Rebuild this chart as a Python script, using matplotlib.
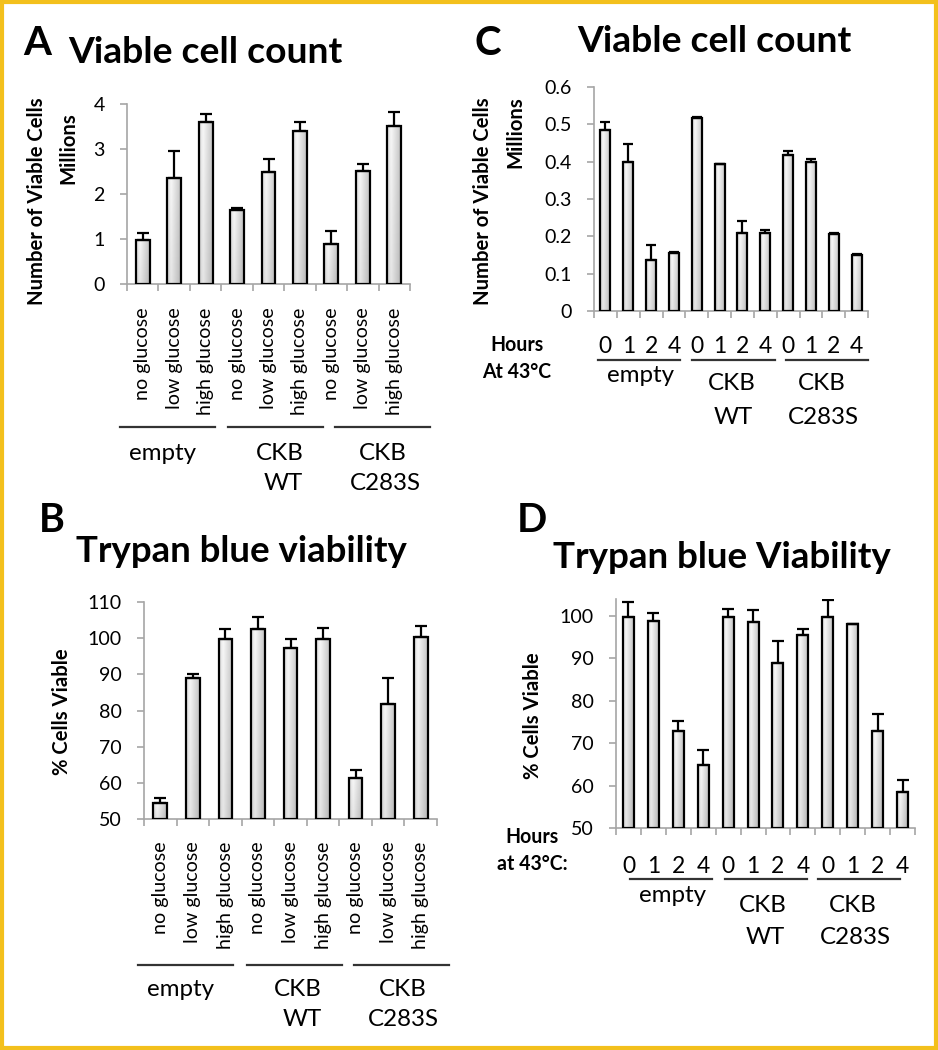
import matplotlib
matplotlib.use('Agg')
import matplotlib.pyplot as plt
import numpy as np
from matplotlib.patches import Rectangle
from matplotlib.lines import Line2D

plt.rcParams['font.family'] = ['Lato', 'DejaVu Sans']

# ---------------- data ----------------
glucose_labels = ['no glucose', 'low glucose', 'high glucose'] * 3
hour_labels = ['0', '1', '2', '4'] * 3
group_top = ['empty', 'CKB', 'CKB']
group_bottom = ['', 'WT', 'C283S']

# Panel A: viable cell count (millions), glucose conditions
a_vals = [0.98, 2.35, 3.59, 1.65, 2.48, 3.40, 0.90, 2.51, 3.51]
a_errs = [0.15, 0.61, 0.19, 0.03, 0.29, 0.19, 0.28, 0.15, 0.31]
a_yticks = [0, 1, 2, 3, 4]

# Panel B: trypan blue viability (%), glucose conditions
b_vals = [54.4, 89.1, 99.7, 102.6, 97.4, 99.7, 61.2, 81.7, 100.2]
b_errs = [1.4, 0.9, 2.9, 3.2, 2.3, 3.2, 2.4, 7.4, 3.1]
b_yticks = [50, 60, 70, 80, 90, 100, 110]

# Panel C: viable cell count (millions), hours at 43 C
c_vals = [0.484, 0.398, 0.136, 0.155, 0.517, 0.393, 0.208, 0.208, 0.417, 0.398, 0.206, 0.150]
c_errs = [0.022, 0.049, 0.041, 0.002, 0.003, 0.001, 0.032, 0.009, 0.012, 0.009, 0.002, 0.003]
c_yticks = [0, 0.1, 0.2, 0.3, 0.4, 0.5, 0.6]
c_ytick_labels = ['0', '0.1', '0.2', '0.3', '0.4', '0.5', '0.6']

# Panel D: trypan blue viability (%), hours at 43 C
d_vals = [99.7, 98.9, 72.8, 64.9, 99.7, 98.6, 89.0, 95.4, 99.7, 98.0, 72.8, 58.5]
d_errs = [3.7, 1.7, 2.4, 3.5, 2.0, 2.7, 5.0, 1.6, 4.1, 0.2, 4.0, 2.9]
d_yticks = [50, 60, 70, 80, 90, 100]

# ---------------- figure helpers ----------------
W, H = 938, 1050
fig = plt.figure(figsize=(W / 100, H / 100), dpi=100)
renderer = fig.canvas.get_renderer()


def axes_px(x0, ytop, x1, ybot):
    return fig.add_axes([x0 / W, 1 - ybot / H, (x1 - x0) / W, (ybot - ytop) / H])


def ftext(x, y, s, **kw):
    return fig.text(x / W, 1 - y / H, s, **kw)


def hline(x0, x1, y, **kw):
    fig.add_artist(Line2D([x0 / W, x1 / W], [1 - y / H, 1 - y / H],
                          transform=fig.transFigure, **kw))


def fit(t, target, vertical=False):
    bb = t.get_window_extent(renderer)
    cur = bb.height if vertical else bb.width
    t.set_fontsize(t.get_fontsize() * target / cur)
    return t.get_fontsize()


def fit_size(s, target, **kw):
    t = fig.text(0, 0, s, fontsize=12, **kw)
    sz = fit(t, target)
    t.remove()
    return sz


# bar gradient image
cols = np.linspace(0, 1, 64)
prof = np.interp(cols, [0, 0.3, 1], [0.86, 0.97, 0.77])
vert = np.linspace(1.0, 0.93, 32)[:, None]
g = prof[None, :] * vert
grad_img = np.dstack([g, g, g])

AX_GRAY = '#a6a6a6'
ytick_sz = fit_size('110', 34)
gluc_sz = fit_size('high glucose', 107)
grp_sz = fit_size(group_top[0], 67)
hour_sz = grp_sz * 0.95


def draw_panel(ax, vals, errs, ylim, yticks, ytick_labels, width, capsize):
    n = len(vals)
    x = np.arange(n)
    base = ylim[0]
    vals = np.array(vals)
    bars = ax.bar(x, vals - base, bottom=base, width=width, facecolor='none',
                  edgecolor='black', linewidth=1.6, zorder=3)
    for r in bars:
        ax.imshow(grad_img, extent=[r.get_x(), r.get_x() + r.get_width(),
                                    base, r.get_y() + r.get_height()],
                  aspect='auto', zorder=2, interpolation='bilinear')
    ax.errorbar(x, vals, yerr=[np.zeros(n), errs], fmt='none', ecolor='black',
                elinewidth=1.6, capsize=capsize, capthick=1.6, zorder=4)
    ax.set_xlim(-0.5, n - 0.5)
    ax.set_ylim(*ylim)
    ax.set_xticks(np.arange(n + 1) - 0.5)
    ax.set_xticklabels([])
    ax.set_yticks(yticks)
    ax.set_yticklabels(ytick_labels)
    for s in ['top', 'right']:
        ax.spines[s].set_visible(False)
    for s in ['left', 'bottom']:
        ax.spines[s].set_color(AX_GRAY)
        ax.spines[s].set_linewidth(1.2)
    ax.tick_params(axis='both', which='major', direction='out', length=5,
                   width=1.2, color=AX_GRAY)
    ax.tick_params(axis='y', labelsize=ytick_sz, pad=11)
    ax.patch.set_visible(False)
    return x


# ---------------- Panel A ----------------
axA = axes_px(127, 104, 410, 284)
xA = draw_panel(axA, a_vals, a_errs, (0, 4), a_yticks, [str(v) for v in a_yticks], 0.44, 4.6)
axA.set_xticks(xA, glucose_labels, minor=True, rotation=90)
axA.tick_params(axis='x', which='minor', length=0, pad=17, labelsize=gluc_sz)

# ---------------- Panel B ----------------
axB = axes_px(144, 602, 437, 819)
xB = draw_panel(axB, b_vals, b_errs, (50, 110), b_yticks, [str(v) for v in b_yticks], 0.42, 4.6)
axB.set_xticks(xB, glucose_labels, minor=True, rotation=90)
axB.tick_params(axis='x', which='minor', length=0, pad=16, labelsize=gluc_sz)

# ---------------- Panel C ----------------
axC = axes_px(594, 87, 868, 311)
xC = draw_panel(axC, c_vals, c_errs, (0, 0.6), c_yticks, c_ytick_labels, 0.44, 3.6)
axC.set_xticks(xC, hour_labels, minor=True)
axC.tick_params(axis='x', which='minor', length=0, pad=18, labelsize=hour_sz)

# ---------------- Panel D ----------------
axD = axes_px(616, 599, 915, 828)
xD = draw_panel(axD, d_vals, d_errs, (50, 104), d_yticks, [str(v) for v in d_yticks], 0.44, 4.0)
axD.set_xticks(xD, hour_labels, minor=True)
axD.tick_params(axis='x', which='minor', length=0, pad=20, labelsize=hour_sz)

# ---------------- Titles ----------------
tA = ftext(205, 63, 'Viable cell count', ha='center', va='baseline', fontweight='bold', fontsize=24)
sz = fit(tA, 275)
ftext(37, 55, 'A', ha='center', va='baseline', fontweight='bold', fontsize=sz * 1.08)

tC = ftext(714, 52, 'Viable cell count', ha='center', va='baseline', fontweight='bold', fontsize=24)
sz = fit(tC, 275)
ftext(488, 55, 'C', ha='center', va='baseline', fontweight='bold', fontsize=sz * 1.08)

tB = ftext(241, 562, 'Trypan blue viability', ha='center', va='baseline', fontweight='bold', fontsize=24)
sz = fit(tB, 332)
ftext(52, 532, 'B', ha='center', va='baseline', fontweight='bold', fontsize=sz * 1.08)

tD = ftext(722, 568, 'Trypan blue Viability', ha='center', va='baseline', fontweight='bold', fontsize=24)
sz = fit(tD, 339)
ftext(532, 532, 'D', ha='center', va='baseline', fontweight='bold', fontsize=sz * 1.08)

# ---------------- y labels ----------------
t = ftext(37, 201, 'Number of Viable Cells', ha='center', va='center', rotation=90, fontweight='bold', fontsize=12)
ylab_sz = fit(t, 207, vertical=True)
ftext(68, 148, 'Millions', ha='center', va='center', rotation=90, fontweight='bold', fontsize=ylab_sz)
ftext(483, 201, 'Number of Viable Cells', ha='center', va='center', rotation=90, fontweight='bold', fontsize=ylab_sz)
ftext(515, 132, 'Millions', ha='center', va='center', rotation=90, fontweight='bold', fontsize=ylab_sz)
ftext(62, 712, '% Cells Viable', ha='center', va='center', rotation=90, fontweight='bold', fontsize=ylab_sz)
ftext(533, 716, '% Cells Viable', ha='center', va='center', rotation=90, fontweight='bold', fontsize=ylab_sz)

# ---------------- Hours labels ----------------
hrs_sz = fit_size('Hours', 53, fontweight='bold')
ftext(517, 345, 'Hours', ha='center', va='center', fontweight='bold', fontsize=hrs_sz)
ftext(517, 372, 'At 43°C', ha='center', va='center', fontweight='bold', fontsize=hrs_sz)
ftext(532, 837, 'Hours', ha='center', va='center', fontweight='bold', fontsize=hrs_sz)
ftext(532, 864, 'at 43°C:', ha='center', va='center', fontweight='bold', fontsize=hrs_sz)

# ---------------- group brackets and labels ----------------
LINE_KW = dict(color='#333333', linewidth=1.6)


def groups(line_y, spans, top_pos, bot_pos):
    for (x0, x1) in spans:
        hline(x0, x1, line_y, **LINE_KW)
    for s, (x, y) in zip(group_top, top_pos):
        ftext(x, y, s, ha='center', va='center', fontsize=grp_sz)
    for s, (x, y) in zip(group_bottom, bot_pos):
        if s:
            ftext(x, y, s, ha='center', va='center', fontsize=grp_sz)


groups(427, [(120, 215), (228, 323), (335, 430)],
       [(163, 453), (280, 453), (383, 453)], [(0, 0), (283, 483), (385, 483)])
groups(965, [(138, 233), (247, 342), (354, 449)],
       [(180, 990), (298, 990), (403, 990)], [(0, 0), (302, 1020), (403, 1020)])
groups(360, [(598, 680), (692, 775), (786, 868)],
       [(640, 376), (732, 384), (822, 384)], [(0, 0), (733, 417), (823, 417)])
groups(879, [(630, 712), (725, 807), (818, 900)],
       [(672, 896), (763, 905), (853, 905)], [(0, 0), (765, 937), (855, 937)])

# ---------------- border ----------------
fig.add_artist(Rectangle((2 / W, 2 / H), (W - 4) / W, (H - 4) / H, transform=fig.transFigure,
                         fill=False, edgecolor='#F3C01C', linewidth=3))

fig.savefig('out.png', dpi=100)
